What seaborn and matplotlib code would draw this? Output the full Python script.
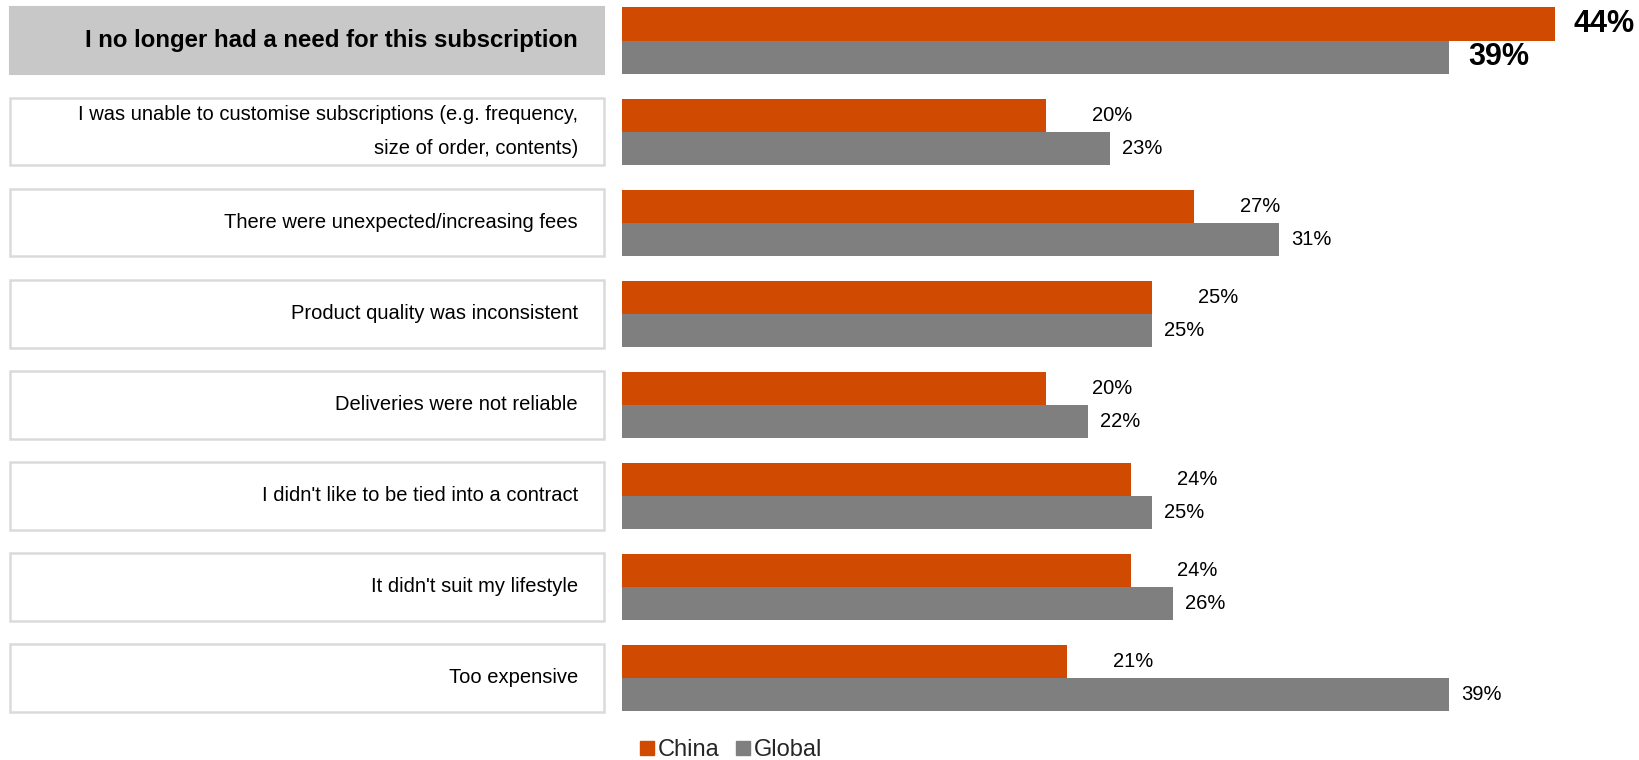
import matplotlib
matplotlib.use("Agg")
import matplotlib.pyplot as plt
import matplotlib.transforms as mtransforms
from matplotlib.patches import Rectangle
from matplotlib.lines import Line2D
import seaborn as sns
import pandas as pd

categories = [
    "I no longer had a need for this subscription",
    "I was unable to customise subscriptions (e.g. frequency,\nsize of order, contents)",
    "There were unexpected/increasing fees",
    "Product quality was inconsistent",
    "Deliveries were not reliable",
    "I didn't like to be tied into a contract",
    "It didn't suit my lifestyle",
    "Too expensive",
]
series = ["China", "Global"]
china = [44, 20, 27, 25, 20, 24, 24, 21]
global_ = [39, 23, 31, 25, 22, 25, 26, 39]
colors = {"China": "#D04A02", "Global": "#7F7F7F"}

rows = []
for c, a, b in zip(categories, china, global_):
    rows.append({"category": c, "series": "China", "value": a})
    rows.append({"category": c, "series": "Global", "value": b})
df = pd.DataFrame(rows)

sns.set_style("white")
plt.rcParams["font.family"] = ["Liberation Sans", "DejaVu Sans"]

W, H, DPI = 1640, 760, 100
fig = plt.figure(figsize=(W / DPI, H / DPI), dpi=DPI)
ax = fig.add_axes([0, 0, 1, 1])

sns.barplot(data=df, y="category", x="value", hue="series", order=categories,
            hue_order=series, palette=colors, orient="h", width=0.73,
            saturation=1, ax=ax, legend=False, edgecolor="none")

# coordinate mapping (pixels)
x0_px, px_per = 622.0, 21.2
ax.set_xlim(-x0_px / px_per, (W - x0_px) / px_per)
c0_px, pitch = 40.7, 91.04
ax.set_ylim((H - c0_px) / pitch, -c0_px / pitch)
ax.axis("off")

# label boxes
blend = mtransforms.blended_transform_factory(fig.transFigure, ax.transData)
box_left, box_right = 10.5 / W, 604.5 / W
bh = 0.74
for i, cat in enumerate(categories):
    if i == 0:
        r = Rectangle((box_left, i - bh / 2), box_right - box_left, bh,
                      transform=blend, facecolor="#C8C8C8", edgecolor="#C8C8C8",
                      linewidth=1.5, clip_on=False)
    else:
        r = Rectangle((box_left, i - bh / 2), box_right - box_left, bh,
                      transform=blend, facecolor="white", edgecolor="#DADADA",
                      linewidth=1.8, clip_on=False)
    ax.add_patch(r)
    ax.text(578 / W, i, cat, transform=blend, ha="right", va="center",
            fontsize=17.3 if i == 0 else 14.5, fontweight="bold" if i == 0 else "normal",
            color="black", linespacing=2.0)

# value labels
for k, cont in enumerate(ax.containers):
    vals = china if k == 0 else global_
    for i, (bar, v) in enumerate(zip(cont.patches, vals)):
        y = bar.get_y() + bar.get_height() / 2
        if i == 0:
            off, fs, fw = 19, 22, "bold"
        else:
            off, fs, fw = (46 if k == 0 else 12), 14.5, "normal"
        ax.annotate(f"{v}%", (bar.get_width(), y), xytext=(off, 0),
                    textcoords="offset pixels", ha="left", va="center",
                    fontsize=fs, fontweight=fw, color="black")

handles = [Line2D([], [], marker="s", linestyle="none", markersize=10,
                  markerfacecolor=colors[s], markeredgecolor=colors[s]) for s in series]
fig.legend(handles, series, loc="center", bbox_to_anchor=(730 / W, 10 / H),
           ncol=2, frameon=False, fontsize=17, handletextpad=0.05,
           columnspacing=0.6, handlelength=0.8)

fig.savefig("out.png", dpi=DPI)
